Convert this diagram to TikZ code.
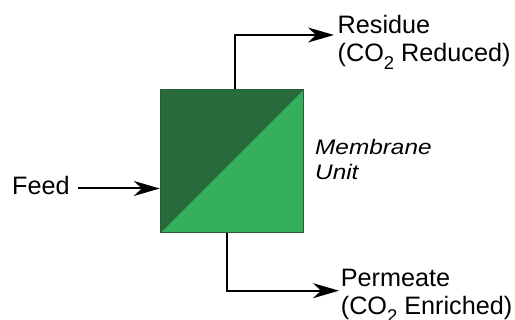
\documentclass[tikz,border=0pt]{standalone}
\usepackage{fontspec}
\setmainfont{Liberation Sans}
\usetikzlibrary{arrows.meta}
\definecolor{darkg}{HTML}{276B3D}
\definecolor{lightg}{HTML}{33AE5B}
\definecolor{edgeg}{HTML}{2A5A37}
\newcommand{\subtwo}{\raisebox{-8pt}{\fontsize{18.5}{18.5}\selectfont 2}}
\begin{document}
\begin{tikzpicture}[x=1pt,y=-1pt,
  arr/.style={line width=2pt, -{Stealth[length=26pt,width=15pt,inset=8pt]}},
  lbl/.style={font=\fontsize{25.2}{28.5}\selectfont, inner sep=0pt, align=left, anchor=base west},
  unitbox/.style={draw=edgeg, line width=1.5pt, minimum width=143pt, minimum height=143pt, inner sep=0pt,
    path picture={
      \fill[darkg] (path picture bounding box.south west) -- (path picture bounding box.north west) -- (path picture bounding box.north east) -- cycle;
      \fill[lightg] (path picture bounding box.south west) -- (path picture bounding box.south east) -- (path picture bounding box.north east) -- cycle;
      \draw[edgeg, line width=0.6pt] (path picture bounding box.south west) -- (path picture bounding box.north east);
    }}
]
\useasboundingbox (0,0) rectangle (515,320);
\node[unitbox] (unit) at (232,161) {};
% feed
\node[lbl] (feed) at (12,194.3) {Feed};
\coordinate (feedin) at (unit.west |- 0,188.5);
\draw[arr, shorten <=8pt] (feed.east |- feedin) -- (feedin);
% residue
\coordinate (rtip) at (334,35);
\draw[arr] ([xshift=3pt]unit.north) |- (rtip);
\node[lbl] (residue) at (337.5,61.7) {Residue\\(CO\subtwo{} Reduced)};
% permeate
\coordinate (ptip) at (339,290.7);
\draw[arr] ([xshift=-4.7pt]unit.south) |- (ptip);
\node[lbl] (perm) at (340.7,315) {Permeate\\(CO\subtwo{} Enriched)};
% membrane label
\node[lbl, font=\fontsize{21}{25.7}\selectfont\itshape] (mlabel) at (315,180) {\scalebox{1.16}[1]{Membrane}\\\scalebox{1.16}[1]{Unit}};
\end{tikzpicture}
\end{document}
